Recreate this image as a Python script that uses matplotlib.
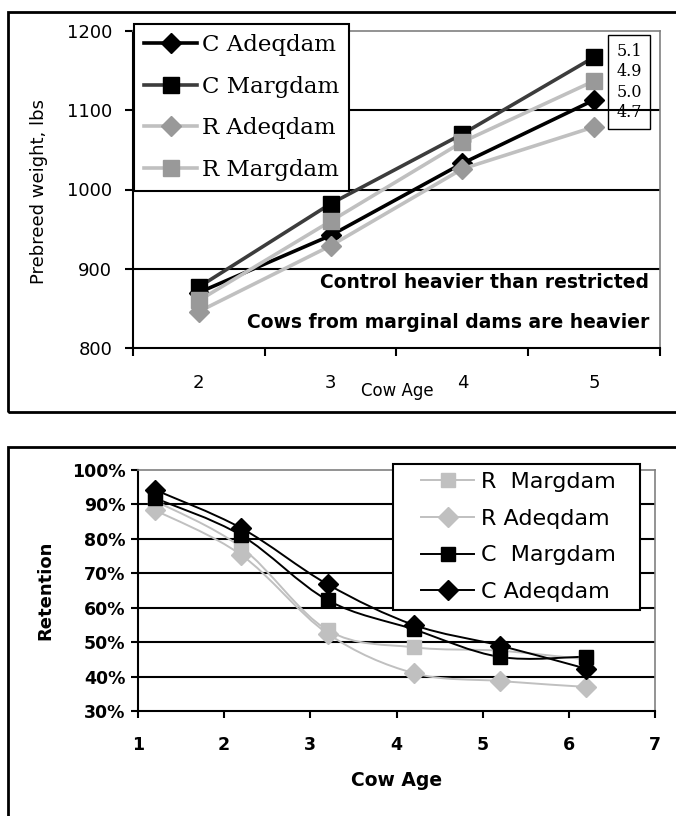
import matplotlib
matplotlib.use("Agg")
import matplotlib.pyplot as plt
from matplotlib.path import Path
from matplotlib.patches import PathPatch, Rectangle
from matplotlib.lines import Line2D
from matplotlib.ticker import FuncFormatter
from matplotlib.legend_handler import HandlerLine2D

# --- DATA: prebreed weight (top chart) ---
weight_ages = [2, 3, 4, 5]
w_c_adeqdam = [870, 942, 1033, 1113]
w_c_margdam = [877, 982, 1070, 1167]
w_r_adeqdam = [846, 929, 1026, 1079]
w_r_margdam = [860, 960, 1060, 1137]
bcs_labels = ["5.1", "4.9", "5.0", "4.7"]

# --- DATA: retention (bottom chart) ---
ret_ages = [1.2, 2.2, 3.2, 4.2, 5.2, 6.2]
r_r_margdam = [91, 77.5, 53.5, 48.5, 47.5, 45]
r_r_adeqdam = [88.3, 75.3, 52.5, 41, 38.7, 37]
r_c_margdam = [91.8, 81, 62.2, 53.7, 45.7, 45.8]
r_c_adeqdam = [94.2, 83.1, 66.8, 55, 49, 42.3]

W, H = 676, 816
fig = plt.figure(figsize=(W / 100, H / 100), dpi=100)


def fx(px):
    return px / W


def fy(py):
    return 1 - py / H


def smooth_path(xs, ys):
    # Excel-style smoothed line (cubic bezier through the points)
    pts = list(zip(xs, ys))
    n = len(pts)
    verts = [pts[0]]
    codes = [Path.MOVETO]
    for i in range(n - 1):
        p0 = pts[i - 1] if i > 0 else pts[i]
        p1, p2 = pts[i], pts[i + 1]
        p3 = pts[i + 2] if i + 2 < n else pts[i + 1]
        c1 = (p1[0] + (p2[0] - p0[0]) / 6, p1[1] + (p2[1] - p0[1]) / 6)
        c2 = (p2[0] - (p3[0] - p1[0]) / 6, p2[1] - (p3[1] - p1[1]) / 6)
        verts += [c1, c2, p2]
        codes += [Path.CURVE4] * 3
    return Path(verts, codes)


class PaddedHandler(HandlerLine2D):
    # legend handle with extra blank space on its left
    def __init__(self, pad, **kw):
        super().__init__(**kw)
        self.pad = pad

    def create_artists(self, legend, orig_handle, xdescent, ydescent, width, height, fontsize, trans):
        return super().create_artists(legend, orig_handle, xdescent - self.pad, ydescent,
                                      width - self.pad, height, fontsize, trans)


# outer frames of the two pasted charts
fig.patches.append(Rectangle((fx(8), fy(412)), 1.1, fy(12) - fy(412), transform=fig.transFigure,
                             fill=False, ec="black", lw=2))
fig.patches.append(Rectangle((fx(8), -0.1), 1.1, fy(447) + 0.1, transform=fig.transFigure,
                             fill=False, ec="black", lw=2))

# ---------------- top chart ----------------
ax1 = fig.add_axes([fx(133), fy(348), fx(660) - fx(133), fy(31) - fy(348)])
top_series = [
    ("C Adeqdam", w_c_adeqdam, "black", "D", "black"),
    ("C Margdam", w_c_margdam, "#3c3c3c", "s", "black"),
    ("R Adeqdam", w_r_adeqdam, "#c0c0c0", "D", "#999999"),
    ("R Margdam", w_r_margdam, "#c0c0c0", "s", "#999999"),
]
for name, vals, lc, mk, mc in top_series:
    ax1.plot(weight_ages, vals, color=lc, lw=2.6, marker=mk, ms=11 if mk == "s" else 10,
             mfc=mc, mec=mc, label=name, clip_on=False, zorder=3)

ax1.set_xlim(1.5, 5.5)
ax1.set_ylim(800, 1200)
ax1.set_xticks([1.5, 2.5, 3.5, 4.5, 5.5])
ax1.set_xticklabels([])
ax1.set_xticks(weight_ages, minor=True)
ax1.set_xticklabels([str(a) for a in weight_ages], minor=True, fontsize=13)
ax1.tick_params(axis="x", which="major", length=6, width=1.5, direction="out")
ax1.tick_params(axis="x", which="minor", length=0, pad=19)
ax1.set_yticks([800, 900, 1000, 1100, 1200])
ax1.tick_params(axis="y", length=6, width=1.5, labelsize=13, pad=9)
ax1.yaxis.grid(True, color="black", lw=1.5)
ax1.set_axisbelow(True)
ax1.get_ygridlines()[0].set_visible(False)
ax1.get_ygridlines()[-1].set_visible(False)
for s in ["left", "bottom"]:
    ax1.spines[s].set_linewidth(1.5)
for s in ["top", "right"]:
    ax1.spines[s].set_color("#808080")
    ax1.spines[s].set_linewidth(1.2)

fig.text(fx(39), fy(192), "Prebreed weight, lbs", rotation=90, ha="center", va="center", fontsize=13)
fig.text(fx(397), fy(391), "Cow Age", ha="center", va="center", fontsize=12)

leg1 = ax1.legend(loc="upper left", bbox_to_anchor=(fx(134), fy(24)), bbox_transform=fig.transFigure,
                  borderaxespad=0, fancybox=False, framealpha=1, edgecolor="black",
                  prop={"family": "DejaVu Serif", "size": 16.5}, handlelength=2.3,
                  handletextpad=0.2, labelspacing=0.85, borderpad=0.45)
leg1.get_frame().set_linewidth(1.5)
leg1.set_zorder(5)

fig.text(fx(629), fy(82), "\n".join(bcs_labels), ha="center", va="center", family="DejaVu Serif",
         fontsize=11.5, linespacing=1.25,
         bbox=dict(boxstyle="square,pad=0.5", fc="none", ec="black", lw=1))

fig.text(fx(649), fy(282), "Control heavier than restricted", ha="right", va="center",
         fontsize=13.5, fontweight="bold")
fig.text(fx(649), fy(323), "Cows from marginal dams are heavier", ha="right", va="center",
         fontsize=13.5, fontweight="bold")

# ---------------- bottom chart ----------------
ax2 = fig.add_axes([fx(138), fy(711), fx(655) - fx(138), fy(470) - fy(711)])
bottom_series = [
    ("R  Margdam", r_r_margdam, "#c0c0c0", "s"),
    ("R Adeqdam", r_r_adeqdam, "#c0c0c0", "D"),
    ("C  Margdam", r_c_margdam, "black", "s"),
    ("C Adeqdam", r_c_adeqdam, "black", "D"),
]
handles = []
for name, vals, col, mk in bottom_series:
    ax2.add_patch(PathPatch(smooth_path(ret_ages, vals), fill=False, ec=col, lw=1.4, zorder=3))
    ax2.plot(ret_ages, vals, ls="none", marker=mk, ms=10 if mk == "s" else 10.5,
             mfc=col, mec=col, zorder=4)
    handles.append(Line2D([], [], color=col, lw=1.4, marker=mk, ms=10 if mk == "s" else 10.5,
                          mfc=col, mec=col, label=name))

ax2.set_xlim(1, 7)
ax2.set_ylim(30, 100)
ax2.set_xticks(range(1, 8))
ax2.set_yticks(range(30, 101, 10))
ax2.yaxis.set_major_formatter(FuncFormatter(lambda v, p: f"{v:.0f}%"))
ax2.tick_params(axis="both", length=5, width=1.5, direction="out", labelsize=12.5)
ax2.tick_params(axis="x", pad=13)
ax2.tick_params(axis="y", pad=4)
for lab in ax2.get_xticklabels() + ax2.get_yticklabels():
    lab.set_fontweight("bold")
ax2.yaxis.grid(True, color="black", lw=1.5)
ax2.set_axisbelow(True)
ax2.get_ygridlines()[0].set_visible(False)
ax2.get_ygridlines()[-1].set_visible(False)
for s in ["left", "bottom"]:
    ax2.spines[s].set_linewidth(1.5)
for s in ["top", "right"]:
    ax2.spines[s].set_color("#808080")
    ax2.spines[s].set_linewidth(1.2)

fig.text(fx(45), fy(590), "Retention", rotation=90, ha="center", va="center", fontsize=13,
         fontweight="bold")
fig.text(fx(397), fy(780), "Cow Age", ha="center", va="center", fontsize=13.5, fontweight="bold")

leg_fs = 16
leg2 = ax2.legend(handles=handles, loc="upper left",
                  bbox_to_anchor=(fx(393), fy(611), fx(640) - fx(393), fy(464) - fy(611)),
                  mode="expand", bbox_transform=fig.transFigure, borderaxespad=0, fancybox=False,
                  framealpha=1, edgecolor="black", fontsize=leg_fs, handlelength=3.3,
                  handletextpad=0.3, labelspacing=0.75, borderpad=0.36,
                  handler_map={Line2D: PaddedHandler(pad=14.5)})
leg2.get_frame().set_linewidth(1.5)
leg2.set_zorder(5)

fig.savefig("out.png", dpi=100)
